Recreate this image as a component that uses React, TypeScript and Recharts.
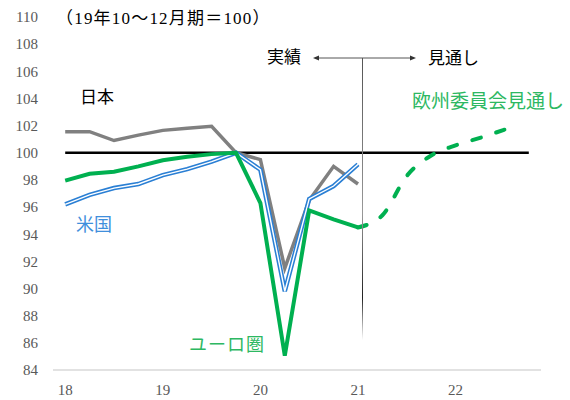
import { LineChart, Line, XAxis, YAxis, ReferenceLine } from "recharts";

// quarters 2018Q1 .. 2022Q4
const quarters = [
  "18Q1", "18Q2", "18Q3", "18Q4",
  "19Q1", "19Q2", "19Q3", "19Q4",
  "20Q1", "20Q2", "20Q3", "20Q4",
  "21Q1", "21Q2", "21Q3", "21Q4",
  "22Q1", "22Q2", "22Q3", "22Q4",
];

// actuals, 2018Q1 .. 2021Q1 (19Q4 = 100)
const japan = [101.55, 101.55, 100.9, 101.3, 101.65, 101.8, 101.95, 100, 99.5, 91.5, 96.5, 99.0, 97.7];
const usa = [96.2, 96.9, 97.4, 97.7, 98.35, 98.8, 99.35, 100, 98.75, 89.8, 96.6, 97.55, 99.15];
const euro = [97.95, 98.45, 98.6, 99.0, 99.45, 99.7, 99.9, 100, 96.3, 85.05, 95.75, 95.1, 94.5];

// EU commission forecast, from 2021Q1
const euroForecast = [94.5, 95.4, 98.3, 99.8, 100.55, 101.1, 101.7];
const forecastStart = 12;

const yTicks = [84, 86, 88, 90, 92, 94, 96, 98, 100, 102, 104, 106, 108, 110];
const yearTicks = [0, 4, 8, 12, 16];
const yearLabels = ["18", "19", "20", "21", "22"];

const data = quarters.map((q, i) => ({
  i,
  q,
  japan: japan[i],
  usa: usa[i],
  euro: euro[i],
  forecast: i >= forecastStart ? euroForecast[i - forecastStart] : undefined,
}));

const serif = "'Liberation Serif', 'Noto Sans CJK JP', serif";
const jp = "'Liberation Serif', 'Noto Sans CJK JP', sans-serif";

export default function App() {
  return (
    <div style={{ position: "absolute", left: 0, top: 0, width: 570, height: 400, background: "#fff" }}>
      <LineChart
        width={570}
        height={400}
        data={data}
        margin={{ top: 17, right: 29, bottom: 0, left: 0 }}
      >
        <XAxis
          dataKey="i"
          type="number"
          domain={[-0.5, 19.5]}
          ticks={yearTicks}
          tickFormatter={(v: number) => yearLabels[yearTicks.indexOf(v)]}
          axisLine={{ stroke: "#d9d9d9", strokeWidth: 1.5 }}
          tickLine={false}
          tickSize={0}
          tickMargin={14}
          height={30}
          tick={{ fontSize: 15, fill: "#595959", fontFamily: serif }}
        />
        <YAxis
          type="number"
          domain={[84, 110]}
          ticks={yTicks}
          interval={0}
          axisLine={false}
          tickLine={false}
          tickSize={0}
          tickMargin={15}
          width={53}
          tick={{ fontSize: 15, fill: "#595959", fontFamily: serif }}
        />
        <ReferenceLine
          segment={[
            { x: 0, y: 100 },
            { x: quarters.length - 1, y: 100 },
          ]}
          stroke="#000"
          strokeWidth={2.5}
        />
        <Line
          dataKey="japan"
          stroke="#808080"
          strokeWidth={3.5}
          dot={false}
          isAnimationActive={false}
        />
        <Line
          dataKey="usa"
          stroke="#2a7fd4"
          strokeWidth={4.5}
          dot={false}
          isAnimationActive={false}
        />
        <Line
          dataKey="usa"
          stroke="#ffffff"
          strokeWidth={1.4}
          dot={false}
          isAnimationActive={false}
        />
        <Line
          dataKey="euro"
          stroke="#00b050"
          strokeWidth={4}
          dot={false}
          isAnimationActive={false}
        />
        <Line
          dataKey="forecast"
          type="monotone"
          stroke="#00b050"
          strokeWidth={4}
          strokeDasharray="9 16"
          strokeLinecap="round"
          dot={false}
          isAnimationActive={false}
        />
      </LineChart>
      <svg
        width={570}
        height={400}
        style={{ position: "absolute", left: 0, top: 0, pointerEvents: "none" }}
      >
        <defs>
          <linearGradient id="vline" gradientUnits="userSpaceOnUse" x1="0" y1="58" x2="0" y2="340">
            <stop offset="0%" stopColor="#555" />
            <stop offset="55%" stopColor="#999" />
            <stop offset="85%" stopColor="#222" />
            <stop offset="100%" stopColor="#fff" />
          </linearGradient>
        </defs>
        <line x1={362.5} y1={58} x2={362.5} y2={340} stroke="url(#vline)" strokeWidth={1} />
        <line x1={318} y1={58} x2={411} y2={58} stroke="#555" strokeWidth={1} />
        <polygon points="313,58 319,55.5 319,60.5" fill="#333" />
        <polygon points="416,58 410,55.5 410,60.5" fill="#333" />
        <g fontFamily={jp} dominantBaseline="central">
          <text x={56} y={18} fontSize={17} fill="#000" letterSpacing={1.2}>（19年10～12月期＝100）</text>
          <text x={80} y={97} fontSize={17} fill="#000">日本</text>
          <text x={267} y={57} fontSize={17} fill="#000">実績</text>
          <text x={428} y={58} fontSize={17} fill="#000">見通し</text>
          <text x={412} y={101} fontSize={19} fill="#2db862">欧州委員会見通し</text>
          <text x={76} y={225} fontSize={18} fill="#3f8fdc">米国</text>
          <text x={189} y={345} fontSize={18} fill="#2db862" letterSpacing={1}>ユーロ圏</text>
        </g>
      </svg>
    </div>
  );
}
